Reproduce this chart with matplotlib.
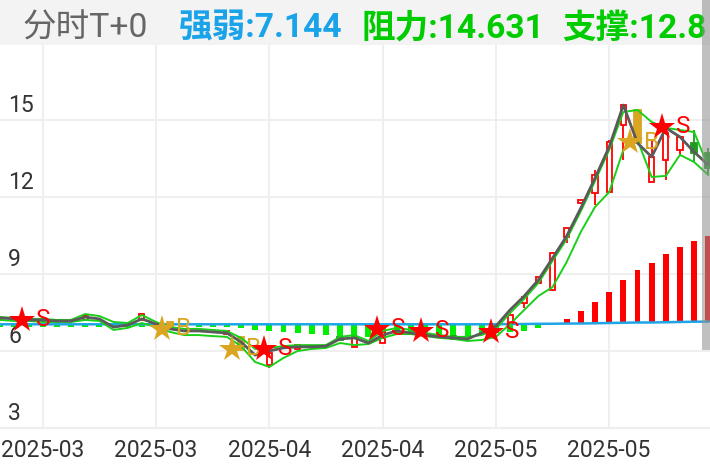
import numpy as np
import matplotlib
matplotlib.use("Agg")
import matplotlib.pyplot as plt
from matplotlib.patches import Rectangle

# ---------------- data ----------------
gray_line = [7.29, 7.25, 7.21, 7.21, 7.17, 7.17, 7.32, 7.25, 6.93, 7.01,
             7.25, 7.05, 6.86, 6.78, 6.78, 6.74, 6.70, 6.35, 5.84, 6.00,
             6.12, 6.16, 6.16, 6.19, 6.47, 6.51, 6.31, 6.62, 6.78, 6.70,
             6.62, 6.55, 6.51, 6.47, 6.70, 6.97, 7.60, 8.14, 8.77, 9.62,
             10.48, 11.57, 12.74, 13.95, 15.58, 14.10, 13.56, 14.69, 14.34, 13.75,
             13.25]
upper_green = [7.32, 7.29, 7.25, 7.25, 7.21, 7.21, 7.44, 7.36, 7.13, 7.09,
               7.40, 7.13, 6.93, 6.86, 6.86, 6.82, 6.78, 6.51, 6.08, 6.12,
               6.19, 6.23, 6.23, 6.23, 6.55, 6.62, 6.39, 6.78, 6.90, 6.82,
               6.70, 6.62, 6.55, 6.55, 6.62, 6.86, 7.48, 8.03, 8.65, 9.51,
               10.36, 11.45, 12.62, 13.83, 15.31, 15.39, 14.92, 14.69, 14.61, 14.53,
               13.17]
lower_green = [7.21, 7.17, 7.17, 7.13, 7.13, 7.13, 7.21, 7.17, 6.82, 6.90,
               7.09, 6.93, 6.74, 6.62, 6.62, 6.58, 6.55, 6.19, 5.57, 5.38,
               5.73, 6.00, 6.08, 6.12, 6.31, 6.23, 6.27, 6.51, 6.66, 6.66,
               6.58, 6.51, 6.47, 6.39, 6.43, 6.55, 7.05, 7.60, 8.14, 8.49,
               9.47, 10.64, 11.61, 12.19, 13.83, 14.22, 12.78, 12.82, 13.64, 13.36,
               12.86]
blue_line = [7.04, 7.04, 7.04, 7.04, 7.04, 7.04, 7.04, 7.04, 7.04, 7.04,
             7.04, 7.04, 7.04, 7.04, 7.04, 7.04, 7.04, 7.04, 7.04, 7.04,
             7.04, 7.04, 7.04, 7.04, 7.04, 7.04, 7.04, 7.04, 7.04, 7.04,
             7.04, 7.04, 7.04, 7.04, 7.04, 7.04, 7.05, 7.05, 7.06, 7.06,
             7.07, 7.07, 7.08, 7.09, 7.10, 7.11, 7.11, 7.12, 7.13, 7.14,
             7.144]
hist = [-0.12, -0.12, -0.12, -0.12, -0.12, -0.12, -0.12, -0.12, -0.12, -0.12,
        -0.12, -0.12, -0.12, -0.12, -0.12, -0.12, -0.12, -0.16, -0.23, -0.27,
        -0.31, -0.35, -0.39, -0.43, -0.47, -0.51, -0.51, -0.47, -0.43, -0.39,
        -0.43, -0.47, -0.47, -0.47, -0.43, -0.35, -0.31, -0.27, -0.16, 0.04,
        0.17, 0.47, 0.82, 1.21, 1.68, 2.03, 2.30, 2.65, 2.92, 3.16,
        3.35]

candle_idx = [6, 10, 12, 16, 17, 19, 21, 24, 25, 27, 32, 36, 37, 38, 39,
              40, 41, 42, 43, 44, 45, 46, 47, 48, 49, 50]
c_open = [7.21, 7.21, 6.93, 6.66, 6.04, 5.45, 6.08, 6.55, 6.16, 6.31, 6.58, 7.09, 7.87, 8.65, 8.38,
          10.44, 11.77, 12.16, 12.19, 14.80, 14.10, 12.58, 13.44, 13.83, 14.10, 13.71]
c_close = [7.36, 7.44, 7.13, 6.78, 6.55, 5.92, 6.23, 6.43, 6.51, 6.74, 6.47, 7.40, 8.10, 8.88, 9.82,
           10.79, 11.88, 12.86, 14.14, 15.58, 15.39, 13.56, 14.49, 14.34, 13.71, 13.13]
c_high = [7.40, 7.48, 7.13, 6.80, 6.55, 6.04, 6.25, 6.55, 6.55, 6.78, 6.58, 7.48, 8.12, 8.90, 9.85,
          10.80, 11.90, 13.05, 14.20, 15.62, 15.39, 14.22, 14.88, 14.34, 14.61, 13.90]
c_low = [7.19, 7.21, 6.93, 6.64, 6.04, 5.34, 6.08, 6.43, 6.16, 6.31, 6.47, 7.09, 7.68, 8.65, 8.38,
         10.21, 11.77, 11.69, 12.19, 13.44, 14.10, 12.58, 12.66, 13.64, 13.36, 12.90]
gold_candles = [12, 17, 45]

signal_x = [1.53, 11.42, 16.36, 18.62, 26.6, 29.71, 34.66, 44.47, 46.73]
signal_y = [7.21, 6.86, 6.08, 6.08, 6.86, 6.78, 6.74, 14.14, 14.73]
signal_type = ['S', 'B', 'B', 'S', 'S', 'S', 'S', 'B', 'S']

x_tick_pos = [3, 11, 19, 27, 35, 43]
x_tick_labels = ['2025-03', '2025-03', '2025-04', '2025-04', '2025-05', '2025-05']
y_ticks = [3, 6, 9, 12, 15]

header_items = [("分时T+0", '#666666', 'normal'),
                ("强弱:7.144", '#1aa3e8', 'bold'),
                ("阻力:14.631", '#00cc00', 'bold'),
                ("支撑:12.8", '#00cc00', 'bold')]

# ---------------- style ----------------
FONT = ['Roboto', 'Noto Sans CJK SC', 'DejaVu Sans']
plt.rcParams['font.family'] = FONT
W, H = 710, 472
fig = plt.figure(figsize=(W / 100, H / 100), dpi=100)
fig.patch.set_facecolor('white')

top_px, bottom_px = 45, 428
ax = fig.add_axes([0, 1 - bottom_px / H, 1, (bottom_px - top_px) / H])
ax.set_xlim(-0.02, 50.12)
ax.set_ylim(3, 17.92)

for s in ['top', 'right', 'left']:
    ax.spines[s].set_visible(False)
ax.spines['bottom'].set_color('#eeeeee')
ax.spines['bottom'].set_linewidth(1.6)

ax.set_yticks(y_ticks)
ax.set_yticklabels([])
ax.set_xticks(x_tick_pos)
ax.set_xticklabels(x_tick_labels, fontsize=16.5, color='#333333')
ax.tick_params(axis='both', length=0)
ax.tick_params(axis='x', pad=8)
ax.grid(True, color='#eeeeee', linewidth=1.3, zorder=0)
ax.set_axisbelow(True)

for v in y_ticks:
    ax.annotate(str(v), xy=(8 / W, v), xycoords=('axes fraction', 'data'),
                xytext=(0, 5.6), textcoords='offset points', ha='left',
                va='baseline', fontsize=16.5, color='#333333', zorder=6)

x = np.arange(len(gray_line))
hist = np.array(hist)
blue = np.array(blue_line)
hcol = ['#ff0000' if h > 0 else '#00ee00' for h in hist]
ax.bar(x, hist, bottom=blue, width=0.42, color=hcol, zorder=2)
ax.plot(x, blue, color='#1ea5e6', lw=1.8, zorder=3)

# candles
for i, o, hi, lo, c in zip(candle_idx, c_open, c_high, c_low, c_close):
    if i in gold_candles:
        fc, ec = '#daa520', '#daa520'
        w = 0.46
    elif c >= o:
        fc, ec = 'white', '#ff0000'
        w = 0.36
    else:
        fc, ec = '#1f9a1f', '#1f9a1f'
        w = 0.4
    ax.vlines(i, lo, hi, color=ec, lw=1.3, zorder=3.5)
    ax.bar(i, abs(c - o), bottom=min(o, c), width=w, facecolor=fc,
           edgecolor=ec, linewidth=1.3, zorder=3.6)

ax.plot(x, lower_green, color='#19d019', lw=1.4, zorder=4)
ax.plot(x, upper_green, color='#19d019', lw=1.4, zorder=4)
ax.plot(x, gray_line, color='#5a5a5a', lw=2.0, zorder=4.5)

for sx, sy, st in zip(signal_x, signal_y, signal_type):
    col = '#ff0000' if st == 'S' else '#daa520'
    ax.plot(sx, sy, marker='*', ms=19.5, color=col, markeredgewidth=0, zorder=7)
    ax.annotate(st, xy=(sx, sy), xytext=(10, 0), textcoords='offset points',
                ha='left', va='center', fontsize=17.5, color=col, zorder=7)

# header
fig.patches.append(Rectangle((0, 1 - top_px / H), 1, top_px / H, transform=fig.transFigure,
                             facecolor='#f3f3f3', edgecolor='none', zorder=0.5))
header_x = [22, 179, 362, 562]
for hx, (txt, col, wt) in zip(header_x, header_items):
    fig.text(hx / W, 1 - 29 / H, txt, color=col, fontweight=wt, fontsize=24.2,
             ha='left', va='center', zorder=5)

# right-side translucent band
fig.patches.append(Rectangle((702 / W, 1 - 350 / H), 8 / W, 350 / H, transform=fig.transFigure,
                             facecolor='#8f8f8f', alpha=0.56, edgecolor='none', zorder=20))

fig.savefig('out.png', dpi=100)
